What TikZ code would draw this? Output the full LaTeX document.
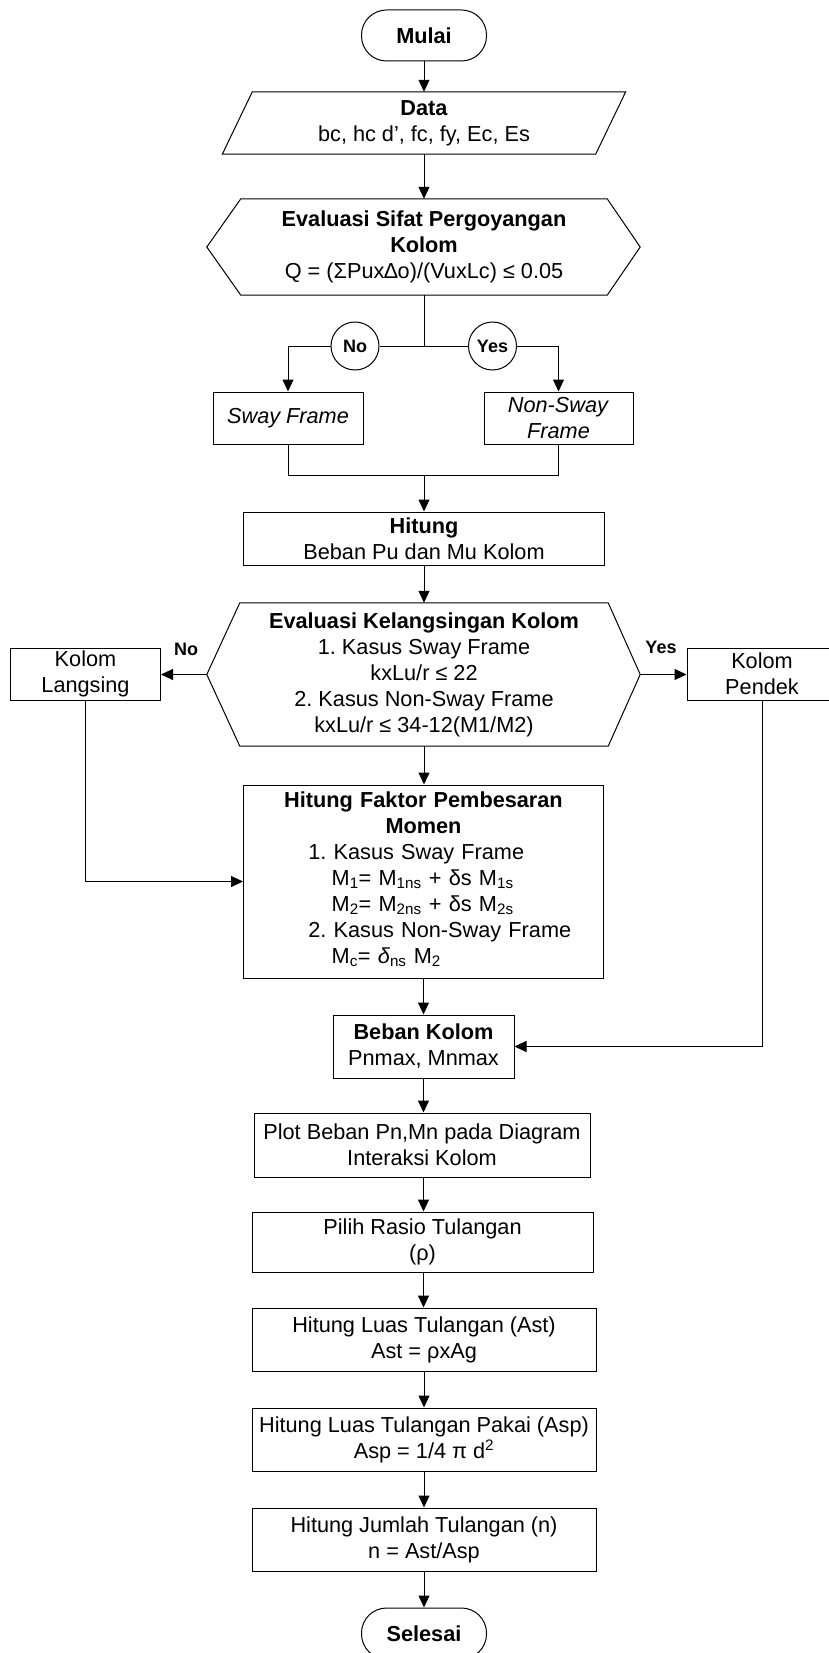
\documentclass[tikz,border=0pt]{standalone}
\usepackage{fontspec}
\setmainfont{Liberation Sans}
\usetikzlibrary{arrows.meta}
\frenchspacing
\begin{document}
\begin{tikzpicture}[x=1pt,y=-1pt,
  every node/.style={font=\fontsize{21.7}{26}\selectfont},
  box/.style={draw, line width=1pt, rectangle, inner sep=0pt, align=center},
  plain/.style={inner sep=0pt, align=center},
  term/.style={draw, line width=1pt, rounded corners=25pt, minimum width=125pt,
    minimum height=51pt, inner sep=0pt, font=\fontsize{21.7}{26}\selectfont\bfseries},
  lbl/.style={inner sep=0pt, font=\fontsize{18}{21}\selectfont\bfseries},
  ring/.style={draw, circle, line width=1pt, minimum size=48pt, inner sep=0pt,
    font=\fontsize{18}{21}\selectfont\bfseries},
  line/.style={line width=1pt},
  arr/.style={line width=1pt, -{Triangle[length=12pt,width=11pt]}},
]
\path[use as bounding box, fill=white] (0,0) rectangle (828,1653);

% start and input data
\node[term] (mulai) at (424,35.5) {Mulai};
\node[plain, minimum width=373pt, minimum height=62pt] (data) at (424,123)
  {\textbf{Data}\\bc, hc d’, fc, fy, Ec, Es};
\draw[line] ([xshift=15pt]data.north west) -- ([xshift=15pt]data.north east)
  -- ([xshift=-15pt]data.south east) -- ([xshift=-15pt]data.south west) -- cycle;

% sway check
\node[plain, minimum width=366pt, minimum height=96pt] (hexa) at (424,247)
  {\textbf{Evaluasi Sifat Pergoyangan}\\\textbf{Kolom}\\Q = (ΣPux∆o)/(VuxLc) ≤ 0.05};
\draw[line] (hexa.north west) -- (hexa.north east) -- ([xshift=33pt]hexa.east)
  -- (hexa.south east) -- (hexa.south west) -- ([xshift=-34pt]hexa.west) -- cycle;

\coordinate (split) at (424,346);
\node[ring] (no) at (355,346) {No};
\node[ring] (yes) at (492.5,346) {Yes};
\node[box, minimum width=150pt, minimum height=52pt] (sway) at (288,418) {\textit{Sway Frame}};
\node[box, minimum width=149pt, minimum height=52pt] (nonsway) at (558.5,418) {\textit{Non-Sway}\\\textit{Frame}};
\coordinate (merge) at (424,475);

\node[box, minimum width=361pt, minimum height=53pt] (hitung) at (424,538.5)
  {\textbf{Hitung}\\Beban Pu dan Mu Kolom};

% slenderness check
\node[plain, minimum width=368pt, minimum height=143pt] (hexb) at (424,674.5)
  {\textbf{Evaluasi Kelangsingan Kolom}\\1. Kasus Sway Frame\\kxLu/r ≤ 22\\2. Kasus Non-Sway Frame\\kxLu/r ≤ 34-12(M1/M2)};
\draw[line] (hexb.north west) -- (hexb.north east) -- ([xshift=32pt]hexb.east)
  -- (hexb.south east) -- (hexb.south west) -- ([xshift=-33pt]hexb.west) -- cycle;
\coordinate (hexbl) at ([xshift=-33pt]hexb.west);
\coordinate (hexbr) at ([xshift=32pt]hexb.east);

\node[box, minimum width=150pt, minimum height=52pt] (langsing) at (85.5,674) {Kolom\\Langsing};
\node[box, minimum width=150pt, minimum height=52pt] (pendek) at (762,674) {Kolom\\Pendek};
\node[lbl] (nolbl) at (186,649) {No};
\node[lbl] (yeslbl) at (661,647) {Yes};

% moment magnification: centred title, then an indented two-level list
\node[box, minimum width=360pt, minimum height=193pt, text width=330pt, align=left] (faktor) at (423.5,881.5)
  {\makebox[330pt]{\bfseries Hitung Faktor Pembesaran}\\
   \makebox[330pt]{\bfseries Momen}\\
   \hspace*{49.8pt}\begin{tabular}[t]{@{}p{23.4pt}@{}l@{}}
   \multicolumn{2}{@{}l@{}}{1. Kasus Sway Frame}\\
   & M\textsubscript{1}= M\textsubscript{1ns} + δs M\textsubscript{1s}\\
   & M\textsubscript{2}= M\textsubscript{2ns} + δs M\textsubscript{2s}\\
   \multicolumn{2}{@{}l@{}}{2. Kasus Non-Sway Frame}\\
   & M\textsubscript{c}= \textit{δ}\textsubscript{ns} M\textsubscript{2}
   \end{tabular}};

\node[box, minimum width=181pt, minimum height=63pt] (beban) at (423.5,1046.5)
  {\textbf{Beban Kolom}\\Pnmax, Mnmax};
\node[box, minimum width=336pt, minimum height=64pt] (plot) at (422,1145)
  {Plot Beban Pn,Mn pada Diagram\\Interaksi Kolom};
\node[box, minimum width=341pt, minimum height=60pt] (pilih) at (422.5,1242)
  {Pilih Rasio Tulangan\\(ρ)};
\node[box, minimum width=344pt, minimum height=63pt] (luas) at (424,1339.5)
  {Hitung Luas Tulangan (Ast)\\Ast = ρxAg};
\node[box, minimum width=344pt, minimum height=63pt] (pakai) at (424,1439.5)
  {Hitung Luas Tulangan Pakai (Asp)\\Asp = 1/4 π d\textsuperscript{2}};
\node[box, minimum width=344pt, minimum height=63pt] (jumlah) at (424,1539.5)
  {Hitung Jumlah Tulangan (n)\\n = Ast/Asp};
\node[term] (selesai) at (424,1633.5) {Selesai};

% connectors
\draw[arr] (mulai) -- (data);
\draw[arr] (data) -- (hexa);
\draw[line] (hexa.south) -- (split);
\draw[line] (split) -- (no);
\draw[line] (split) -- (yes);
\draw[arr] (no) -| (sway);
\draw[arr] (yes) -| (nonsway);
\draw[line] (sway) |- (merge);
\draw[line] (nonsway) |- (merge);
\draw[arr] (merge) -- (hitung);
\draw[arr] (hitung.south) -- (hitung.south |- hexb.north);
\draw[arr] (hexbl) -- (hexbl -| langsing.east);
\draw[arr] (hexbr) -- (hexbr -| pendek.west);
\draw[arr] (hexb.south) -- (hexb.south |- faktor.north);
\draw[arr] (langsing) |- (faktor.west);
\draw[arr] (faktor.south) -- (faktor.south |- beban.north);
\draw[arr] (pendek) |- (beban.east);
\draw[arr] (beban.south) -- (beban.south |- plot.north);
\draw[arr] (beban.south |- plot.south) -- (beban.south |- pilih.north);
\draw[arr] (beban.south |- pilih.south) -- (beban.south |- luas.north);
\draw[arr] (luas) -- (pakai);
\draw[arr] (pakai) -- (jumlah);
\draw[arr] (jumlah) -- (selesai);
\end{tikzpicture}
\end{document}
